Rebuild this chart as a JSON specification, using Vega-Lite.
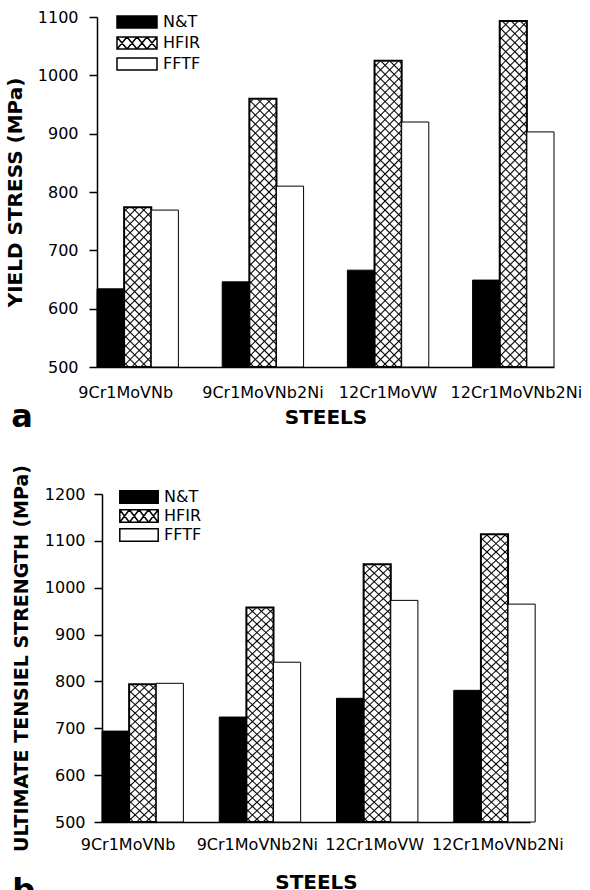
{
 "$schema": "https://vega.github.io/schema/vega-lite/v6.json",
 "background": "#ffffff",
 "padding": {"left": 5, "top": 9, "right": 5, "bottom": 0},
 "columns": 1,
 "spacing": 31,
 "resolve": {"scale": {"fill": "independent"}, "legend": {"fill": "independent"}},
 "data": {"values": [
  {"steel":"9Cr1MoVNb","cond":"N&T","ys":634,"uts":694},
  {"steel":"9Cr1MoVNb","cond":"HFIR","ys":774,"uts":794},
  {"steel":"9Cr1MoVNb","cond":"FFTF","ys":769,"uts":796},
  {"steel":"9Cr1MoVNb2Ni","cond":"N&T","ys":646,"uts":724},
  {"steel":"9Cr1MoVNb2Ni","cond":"HFIR","ys":960,"uts":958},
  {"steel":"9Cr1MoVNb2Ni","cond":"FFTF","ys":810,"uts":841},
  {"steel":"12Cr1MoVW","cond":"N&T","ys":666,"uts":764},
  {"steel":"12Cr1MoVW","cond":"HFIR","ys":1025,"uts":1050},
  {"steel":"12Cr1MoVW","cond":"FFTF","ys":920,"uts":973},
  {"steel":"12Cr1MoVNb2Ni","cond":"N&T","ys":649,"uts":781},
  {"steel":"12Cr1MoVNb2Ni","cond":"HFIR","ys":1093,"uts":1114},
  {"steel":"12Cr1MoVNb2Ni","cond":"FFTF","ys":903,"uts":965}
 ]},
 "concat": [
  {
   "width": 457, "height": 350,
   "title": {"text": "a", "orient": "bottom", "anchor": "start", "frame": "bounds", "fontSize": 32, "font": "DejaVu Sans", "fontWeight": "bold", "color": "#000", "offset": 0, "dx": 6, "dy": -25},
   "encoding": {
    "x": {"field": "steel", "type": "nominal", "scale": {"domain": ["9Cr1MoVNb","9Cr1MoVNb2Ni","12Cr1MoVW","12Cr1MoVNb2Ni"], "paddingInner": 0.35, "paddingOuter": 0},
          "axis": {"title": "STEELS", "labelPadding": 17, "titlePadding": 7, "labelOverlap": false,
                   "labelOffset": {"condition": [{"test": "datum.value === '9Cr1MoVNb'", "value": -12}, {"test": "datum.value === '12Cr1MoVNb2Ni'", "value": 3}], "value": 0}}},
    "xOffset": {"field": "cond", "type": "nominal", "scale": {"domain": ["N&T","HFIR","FFTF"], "paddingInner": 0, "paddingOuter": 0}}
   },
   "layer": [
    {"transform": [{"filter": "datum.cond === 'HFIR'"}],
     "mark": {"type": "bar", "fill": {"gradient": "linear", "x1": 0, "y1": 0, "x2": 0.0829, "y2": 1.071, "stops": [
    {"offset":0.008,"color":"#fff"},{"offset":0.012,"color":"#000"},{"offset":0.016,"color":"#fff"},
    {"offset":0.032,"color":"#fff"},{"offset":0.036,"color":"#000"},{"offset":0.040,"color":"#fff"},
    {"offset":0.056,"color":"#fff"},{"offset":0.060,"color":"#000"},{"offset":0.064,"color":"#fff"},
    {"offset":0.080,"color":"#fff"},{"offset":0.084,"color":"#000"},{"offset":0.088,"color":"#fff"},
    {"offset":0.104,"color":"#fff"},{"offset":0.108,"color":"#000"},{"offset":0.112,"color":"#fff"},
    {"offset":0.128,"color":"#fff"},{"offset":0.132,"color":"#000"},{"offset":0.136,"color":"#fff"},
    {"offset":0.152,"color":"#fff"},{"offset":0.156,"color":"#000"},{"offset":0.160,"color":"#fff"},
    {"offset":0.176,"color":"#fff"},{"offset":0.180,"color":"#000"},{"offset":0.184,"color":"#fff"},
    {"offset":0.200,"color":"#fff"},{"offset":0.204,"color":"#000"},{"offset":0.208,"color":"#fff"},
    {"offset":0.224,"color":"#fff"},{"offset":0.228,"color":"#000"},{"offset":0.232,"color":"#fff"},
    {"offset":0.248,"color":"#fff"},{"offset":0.252,"color":"#000"},{"offset":0.256,"color":"#fff"},
    {"offset":0.272,"color":"#fff"},{"offset":0.276,"color":"#000"},{"offset":0.280,"color":"#fff"},
    {"offset":0.296,"color":"#fff"},{"offset":0.300,"color":"#000"},{"offset":0.304,"color":"#fff"},
    {"offset":0.320,"color":"#fff"},{"offset":0.324,"color":"#000"},{"offset":0.328,"color":"#fff"},
    {"offset":0.344,"color":"#fff"},{"offset":0.348,"color":"#000"},{"offset":0.352,"color":"#fff"},
    {"offset":0.368,"color":"#fff"},{"offset":0.372,"color":"#000"},{"offset":0.376,"color":"#fff"},
    {"offset":0.392,"color":"#fff"},{"offset":0.396,"color":"#000"},{"offset":0.400,"color":"#fff"},
    {"offset":0.416,"color":"#fff"},{"offset":0.420,"color":"#000"},{"offset":0.424,"color":"#fff"},
    {"offset":0.440,"color":"#fff"},{"offset":0.444,"color":"#000"},{"offset":0.448,"color":"#fff"},
    {"offset":0.464,"color":"#fff"},{"offset":0.468,"color":"#000"},{"offset":0.472,"color":"#fff"},
    {"offset":0.488,"color":"#fff"},{"offset":0.492,"color":"#000"},{"offset":0.496,"color":"#fff"},
    {"offset":0.512,"color":"#fff"},{"offset":0.516,"color":"#000"},{"offset":0.520,"color":"#fff"},
    {"offset":0.536,"color":"#fff"},{"offset":0.540,"color":"#000"},{"offset":0.544,"color":"#fff"},
    {"offset":0.560,"color":"#fff"},{"offset":0.564,"color":"#000"},{"offset":0.568,"color":"#fff"},
    {"offset":0.584,"color":"#fff"},{"offset":0.588,"color":"#000"},{"offset":0.592,"color":"#fff"},
    {"offset":0.608,"color":"#fff"},{"offset":0.612,"color":"#000"},{"offset":0.616,"color":"#fff"},
    {"offset":0.632,"color":"#fff"},{"offset":0.636,"color":"#000"},{"offset":0.640,"color":"#fff"},
    {"offset":0.656,"color":"#fff"},{"offset":0.660,"color":"#000"},{"offset":0.664,"color":"#fff"},
    {"offset":0.680,"color":"#fff"},{"offset":0.684,"color":"#000"},{"offset":0.688,"color":"#fff"},
    {"offset":0.704,"color":"#fff"},{"offset":0.708,"color":"#000"},{"offset":0.712,"color":"#fff"},
    {"offset":0.728,"color":"#fff"},{"offset":0.732,"color":"#000"},{"offset":0.736,"color":"#fff"},
    {"offset":0.752,"color":"#fff"},{"offset":0.756,"color":"#000"},{"offset":0.760,"color":"#fff"},
    {"offset":0.776,"color":"#fff"},{"offset":0.780,"color":"#000"},{"offset":0.784,"color":"#fff"},
    {"offset":0.800,"color":"#fff"},{"offset":0.804,"color":"#000"},{"offset":0.808,"color":"#fff"},
    {"offset":0.824,"color":"#fff"},{"offset":0.828,"color":"#000"},{"offset":0.832,"color":"#fff"},
    {"offset":0.848,"color":"#fff"},{"offset":0.852,"color":"#000"},{"offset":0.856,"color":"#fff"},
    {"offset":0.872,"color":"#fff"},{"offset":0.876,"color":"#000"},{"offset":0.880,"color":"#fff"},
    {"offset":0.896,"color":"#fff"},{"offset":0.900,"color":"#000"},{"offset":0.904,"color":"#fff"},
    {"offset":0.920,"color":"#fff"},{"offset":0.924,"color":"#000"},{"offset":0.928,"color":"#fff"},
    {"offset":0.944,"color":"#fff"},{"offset":0.948,"color":"#000"},{"offset":0.952,"color":"#fff"},
    {"offset":0.968,"color":"#fff"},{"offset":0.972,"color":"#000"},{"offset":0.976,"color":"#fff"},
    {"offset":0.992,"color":"#fff"},{"offset":0.996,"color":"#000"},{"offset":1.000,"color":"#fff"}
     ]}},
     "encoding": {"y": {"datum": 1100, "type": "quantitative", "scale": {"domain": [500, 1100], "nice": false, "zero": false}}, "y2": {"datum": 500}}},
    {"transform": [{"filter": "datum.cond === 'HFIR'"}],
     "mark": {"type": "bar", "fill": {"gradient": "linear", "x1": 0, "y1": 1, "x2": 0.0829, "y2": -0.071, "stops": [
    {"offset":0.008,"color":"transparent"},{"offset":0.012,"color":"#000"},{"offset":0.016,"color":"transparent"},
    {"offset":0.032,"color":"transparent"},{"offset":0.036,"color":"#000"},{"offset":0.040,"color":"transparent"},
    {"offset":0.056,"color":"transparent"},{"offset":0.060,"color":"#000"},{"offset":0.064,"color":"transparent"},
    {"offset":0.080,"color":"transparent"},{"offset":0.084,"color":"#000"},{"offset":0.088,"color":"transparent"},
    {"offset":0.104,"color":"transparent"},{"offset":0.108,"color":"#000"},{"offset":0.112,"color":"transparent"},
    {"offset":0.128,"color":"transparent"},{"offset":0.132,"color":"#000"},{"offset":0.136,"color":"transparent"},
    {"offset":0.152,"color":"transparent"},{"offset":0.156,"color":"#000"},{"offset":0.160,"color":"transparent"},
    {"offset":0.176,"color":"transparent"},{"offset":0.180,"color":"#000"},{"offset":0.184,"color":"transparent"},
    {"offset":0.200,"color":"transparent"},{"offset":0.204,"color":"#000"},{"offset":0.208,"color":"transparent"},
    {"offset":0.224,"color":"transparent"},{"offset":0.228,"color":"#000"},{"offset":0.232,"color":"transparent"},
    {"offset":0.248,"color":"transparent"},{"offset":0.252,"color":"#000"},{"offset":0.256,"color":"transparent"},
    {"offset":0.272,"color":"transparent"},{"offset":0.276,"color":"#000"},{"offset":0.280,"color":"transparent"},
    {"offset":0.296,"color":"transparent"},{"offset":0.300,"color":"#000"},{"offset":0.304,"color":"transparent"},
    {"offset":0.320,"color":"transparent"},{"offset":0.324,"color":"#000"},{"offset":0.328,"color":"transparent"},
    {"offset":0.344,"color":"transparent"},{"offset":0.348,"color":"#000"},{"offset":0.352,"color":"transparent"},
    {"offset":0.368,"color":"transparent"},{"offset":0.372,"color":"#000"},{"offset":0.376,"color":"transparent"},
    {"offset":0.392,"color":"transparent"},{"offset":0.396,"color":"#000"},{"offset":0.400,"color":"transparent"},
    {"offset":0.416,"color":"transparent"},{"offset":0.420,"color":"#000"},{"offset":0.424,"color":"transparent"},
    {"offset":0.440,"color":"transparent"},{"offset":0.444,"color":"#000"},{"offset":0.448,"color":"transparent"},
    {"offset":0.464,"color":"transparent"},{"offset":0.468,"color":"#000"},{"offset":0.472,"color":"transparent"},
    {"offset":0.488,"color":"transparent"},{"offset":0.492,"color":"#000"},{"offset":0.496,"color":"transparent"},
    {"offset":0.512,"color":"transparent"},{"offset":0.516,"color":"#000"},{"offset":0.520,"color":"transparent"},
    {"offset":0.536,"color":"transparent"},{"offset":0.540,"color":"#000"},{"offset":0.544,"color":"transparent"},
    {"offset":0.560,"color":"transparent"},{"offset":0.564,"color":"#000"},{"offset":0.568,"color":"transparent"},
    {"offset":0.584,"color":"transparent"},{"offset":0.588,"color":"#000"},{"offset":0.592,"color":"transparent"},
    {"offset":0.608,"color":"transparent"},{"offset":0.612,"color":"#000"},{"offset":0.616,"color":"transparent"},
    {"offset":0.632,"color":"transparent"},{"offset":0.636,"color":"#000"},{"offset":0.640,"color":"transparent"},
    {"offset":0.656,"color":"transparent"},{"offset":0.660,"color":"#000"},{"offset":0.664,"color":"transparent"},
    {"offset":0.680,"color":"transparent"},{"offset":0.684,"color":"#000"},{"offset":0.688,"color":"transparent"},
    {"offset":0.704,"color":"transparent"},{"offset":0.708,"color":"#000"},{"offset":0.712,"color":"transparent"},
    {"offset":0.728,"color":"transparent"},{"offset":0.732,"color":"#000"},{"offset":0.736,"color":"transparent"},
    {"offset":0.752,"color":"transparent"},{"offset":0.756,"color":"#000"},{"offset":0.760,"color":"transparent"},
    {"offset":0.776,"color":"transparent"},{"offset":0.780,"color":"#000"},{"offset":0.784,"color":"transparent"},
    {"offset":0.800,"color":"transparent"},{"offset":0.804,"color":"#000"},{"offset":0.808,"color":"transparent"},
    {"offset":0.824,"color":"transparent"},{"offset":0.828,"color":"#000"},{"offset":0.832,"color":"transparent"},
    {"offset":0.848,"color":"transparent"},{"offset":0.852,"color":"#000"},{"offset":0.856,"color":"transparent"},
    {"offset":0.872,"color":"transparent"},{"offset":0.876,"color":"#000"},{"offset":0.880,"color":"transparent"},
    {"offset":0.896,"color":"transparent"},{"offset":0.900,"color":"#000"},{"offset":0.904,"color":"transparent"},
    {"offset":0.920,"color":"transparent"},{"offset":0.924,"color":"#000"},{"offset":0.928,"color":"transparent"},
    {"offset":0.944,"color":"transparent"},{"offset":0.948,"color":"#000"},{"offset":0.952,"color":"transparent"},
    {"offset":0.968,"color":"transparent"},{"offset":0.972,"color":"#000"},{"offset":0.976,"color":"transparent"},
    {"offset":0.992,"color":"transparent"},{"offset":0.996,"color":"#000"},{"offset":1.000,"color":"transparent"}
     ]}},
     "encoding": {"y": {"datum": 1100, "type": "quantitative", "scale": {"domain": [500, 1100], "nice": false, "zero": false}}, "y2": {"datum": 500}}},
    {"transform": [{"filter": "datum.cond === 'HFIR'"}], "mark": {"type": "bar", "fill": "#ffffff", "stroke": "#ffffff", "strokeWidth": 1.5},
     "encoding": {"y": {"field": "ys", "type": "quantitative", "scale": {"domain": [500, 1100], "nice": false, "zero": false}}, "y2": {"datum": 1100}}},
    {"mark": {"type": "bar", "stroke": "#000000"},
     "encoding": {
      "y": {"field": "ys", "type": "quantitative", "scale": {"domain": [500, 1100], "nice": false, "zero": false},
            "axis": {"title": "YIELD  STRESS  (MPa)", "format": "d", "values": [500,600,700,800,900,1000,1100], "titlePadding": 12, "labelPadding": 11, "titleFontSize": 20}},
      "y2": {"datum": 500},
      "fill": {"field": "cond", "type": "nominal", "scale": {"domain": ["N&T","HFIR","FFTF"], "range": ["#000000", "transparent", "#ffffff"]},
               "legend": {"title": null, "orient": "none", "legendX": 32, "legendY": -3, "padding": 0, "symbolSize": 144, "labelOffset": 18, "rowPadding": 3,
                          "symbolType": {"expr": "datum.value === 'HFIR' ? 'M-3.333,-1H3.333V1H-3.333ZM-3.333,-1L-1.667,1M-1.667,-1L-3.333,1M-1.667,-1L0,1M0,-1L-1.667,1M0,-1L1.667,1M1.667,-1L0,1M1.667,-1L3.333,1M3.333,-1L1.667,1' : 'M-3.333,-1H3.333V1H-3.333Z'"},
                          "encode": {"symbols": {
                            "fill": {"condition": {"test": "datum.value === 'N&T'", "value": "#000000"}, "value": "#ffffff"},
                            "stroke": {"value": "#000000"},
                            "strokeWidth": {"value": 1.3},
                            "opacity": {"value": 1}}}}},
      "strokeWidth": {"condition": {"test": "datum.cond === 'HFIR'", "value": 2}, "value": 1}
     }}
   ]
  },
  {
   "width": 433, "height": 328,
   "title": {"text": "b", "orient": "bottom", "anchor": "start", "frame": "bounds", "fontSize": 32, "font": "DejaVu Sans", "fontWeight": "bold", "color": "#000", "offset": 0, "dx": 0, "dy": -16},
   "encoding": {
    "x": {"field": "steel", "type": "nominal", "scale": {"domain": ["9Cr1MoVNb","9Cr1MoVNb2Ni","12Cr1MoVW","12Cr1MoVNb2Ni"], "range": [5, 433], "paddingInner": 0.35, "paddingOuter": 0},
          "axis": {"title": "STEELS", "labelPadding": 14, "titlePadding": 20, "labelOverlap": false,
                   "labelOffset": {"condition": [{"test": "datum.value === '9Cr1MoVNb'", "value": -12}, {"test": "datum.value === '12Cr1MoVNb2Ni'", "value": 6}], "value": 0}}},
    "xOffset": {"field": "cond", "type": "nominal", "scale": {"domain": ["N&T","HFIR","FFTF"], "paddingInner": 0, "paddingOuter": 0}}
   },
   "layer": [
    {"transform": [{"filter": "datum.cond === 'HFIR'"}],
     "mark": {"type": "bar", "fill": {"gradient": "linear", "x1": 0, "y1": 0, "x2": 0.0829, "y2": 1.071, "stops": [
    {"offset":0.008,"color":"#fff"},{"offset":0.012,"color":"#000"},{"offset":0.016,"color":"#fff"},
    {"offset":0.032,"color":"#fff"},{"offset":0.036,"color":"#000"},{"offset":0.040,"color":"#fff"},
    {"offset":0.056,"color":"#fff"},{"offset":0.060,"color":"#000"},{"offset":0.064,"color":"#fff"},
    {"offset":0.080,"color":"#fff"},{"offset":0.084,"color":"#000"},{"offset":0.088,"color":"#fff"},
    {"offset":0.104,"color":"#fff"},{"offset":0.108,"color":"#000"},{"offset":0.112,"color":"#fff"},
    {"offset":0.128,"color":"#fff"},{"offset":0.132,"color":"#000"},{"offset":0.136,"color":"#fff"},
    {"offset":0.152,"color":"#fff"},{"offset":0.156,"color":"#000"},{"offset":0.160,"color":"#fff"},
    {"offset":0.176,"color":"#fff"},{"offset":0.180,"color":"#000"},{"offset":0.184,"color":"#fff"},
    {"offset":0.200,"color":"#fff"},{"offset":0.204,"color":"#000"},{"offset":0.208,"color":"#fff"},
    {"offset":0.224,"color":"#fff"},{"offset":0.228,"color":"#000"},{"offset":0.232,"color":"#fff"},
    {"offset":0.248,"color":"#fff"},{"offset":0.252,"color":"#000"},{"offset":0.256,"color":"#fff"},
    {"offset":0.272,"color":"#fff"},{"offset":0.276,"color":"#000"},{"offset":0.280,"color":"#fff"},
    {"offset":0.296,"color":"#fff"},{"offset":0.300,"color":"#000"},{"offset":0.304,"color":"#fff"},
    {"offset":0.320,"color":"#fff"},{"offset":0.324,"color":"#000"},{"offset":0.328,"color":"#fff"},
    {"offset":0.344,"color":"#fff"},{"offset":0.348,"color":"#000"},{"offset":0.352,"color":"#fff"},
    {"offset":0.368,"color":"#fff"},{"offset":0.372,"color":"#000"},{"offset":0.376,"color":"#fff"},
    {"offset":0.392,"color":"#fff"},{"offset":0.396,"color":"#000"},{"offset":0.400,"color":"#fff"},
    {"offset":0.416,"color":"#fff"},{"offset":0.420,"color":"#000"},{"offset":0.424,"color":"#fff"},
    {"offset":0.440,"color":"#fff"},{"offset":0.444,"color":"#000"},{"offset":0.448,"color":"#fff"},
    {"offset":0.464,"color":"#fff"},{"offset":0.468,"color":"#000"},{"offset":0.472,"color":"#fff"},
    {"offset":0.488,"color":"#fff"},{"offset":0.492,"color":"#000"},{"offset":0.496,"color":"#fff"},
    {"offset":0.512,"color":"#fff"},{"offset":0.516,"color":"#000"},{"offset":0.520,"color":"#fff"},
    {"offset":0.536,"color":"#fff"},{"offset":0.540,"color":"#000"},{"offset":0.544,"color":"#fff"},
    {"offset":0.560,"color":"#fff"},{"offset":0.564,"color":"#000"},{"offset":0.568,"color":"#fff"},
    {"offset":0.584,"color":"#fff"},{"offset":0.588,"color":"#000"},{"offset":0.592,"color":"#fff"},
    {"offset":0.608,"color":"#fff"},{"offset":0.612,"color":"#000"},{"offset":0.616,"color":"#fff"},
    {"offset":0.632,"color":"#fff"},{"offset":0.636,"color":"#000"},{"offset":0.640,"color":"#fff"},
    {"offset":0.656,"color":"#fff"},{"offset":0.660,"color":"#000"},{"offset":0.664,"color":"#fff"},
    {"offset":0.680,"color":"#fff"},{"offset":0.684,"color":"#000"},{"offset":0.688,"color":"#fff"},
    {"offset":0.704,"color":"#fff"},{"offset":0.708,"color":"#000"},{"offset":0.712,"color":"#fff"},
    {"offset":0.728,"color":"#fff"},{"offset":0.732,"color":"#000"},{"offset":0.736,"color":"#fff"},
    {"offset":0.752,"color":"#fff"},{"offset":0.756,"color":"#000"},{"offset":0.760,"color":"#fff"},
    {"offset":0.776,"color":"#fff"},{"offset":0.780,"color":"#000"},{"offset":0.784,"color":"#fff"},
    {"offset":0.800,"color":"#fff"},{"offset":0.804,"color":"#000"},{"offset":0.808,"color":"#fff"},
    {"offset":0.824,"color":"#fff"},{"offset":0.828,"color":"#000"},{"offset":0.832,"color":"#fff"},
    {"offset":0.848,"color":"#fff"},{"offset":0.852,"color":"#000"},{"offset":0.856,"color":"#fff"},
    {"offset":0.872,"color":"#fff"},{"offset":0.876,"color":"#000"},{"offset":0.880,"color":"#fff"},
    {"offset":0.896,"color":"#fff"},{"offset":0.900,"color":"#000"},{"offset":0.904,"color":"#fff"},
    {"offset":0.920,"color":"#fff"},{"offset":0.924,"color":"#000"},{"offset":0.928,"color":"#fff"},
    {"offset":0.944,"color":"#fff"},{"offset":0.948,"color":"#000"},{"offset":0.952,"color":"#fff"},
    {"offset":0.968,"color":"#fff"},{"offset":0.972,"color":"#000"},{"offset":0.976,"color":"#fff"},
    {"offset":0.992,"color":"#fff"},{"offset":0.996,"color":"#000"},{"offset":1.000,"color":"#fff"}
     ]}},
     "encoding": {"y": {"datum": 1200, "type": "quantitative", "scale": {"domain": [500, 1200], "nice": false, "zero": false}}, "y2": {"datum": 500}}},
    {"transform": [{"filter": "datum.cond === 'HFIR'"}],
     "mark": {"type": "bar", "fill": {"gradient": "linear", "x1": 0, "y1": 1, "x2": 0.0829, "y2": -0.071, "stops": [
    {"offset":0.008,"color":"transparent"},{"offset":0.012,"color":"#000"},{"offset":0.016,"color":"transparent"},
    {"offset":0.032,"color":"transparent"},{"offset":0.036,"color":"#000"},{"offset":0.040,"color":"transparent"},
    {"offset":0.056,"color":"transparent"},{"offset":0.060,"color":"#000"},{"offset":0.064,"color":"transparent"},
    {"offset":0.080,"color":"transparent"},{"offset":0.084,"color":"#000"},{"offset":0.088,"color":"transparent"},
    {"offset":0.104,"color":"transparent"},{"offset":0.108,"color":"#000"},{"offset":0.112,"color":"transparent"},
    {"offset":0.128,"color":"transparent"},{"offset":0.132,"color":"#000"},{"offset":0.136,"color":"transparent"},
    {"offset":0.152,"color":"transparent"},{"offset":0.156,"color":"#000"},{"offset":0.160,"color":"transparent"},
    {"offset":0.176,"color":"transparent"},{"offset":0.180,"color":"#000"},{"offset":0.184,"color":"transparent"},
    {"offset":0.200,"color":"transparent"},{"offset":0.204,"color":"#000"},{"offset":0.208,"color":"transparent"},
    {"offset":0.224,"color":"transparent"},{"offset":0.228,"color":"#000"},{"offset":0.232,"color":"transparent"},
    {"offset":0.248,"color":"transparent"},{"offset":0.252,"color":"#000"},{"offset":0.256,"color":"transparent"},
    {"offset":0.272,"color":"transparent"},{"offset":0.276,"color":"#000"},{"offset":0.280,"color":"transparent"},
    {"offset":0.296,"color":"transparent"},{"offset":0.300,"color":"#000"},{"offset":0.304,"color":"transparent"},
    {"offset":0.320,"color":"transparent"},{"offset":0.324,"color":"#000"},{"offset":0.328,"color":"transparent"},
    {"offset":0.344,"color":"transparent"},{"offset":0.348,"color":"#000"},{"offset":0.352,"color":"transparent"},
    {"offset":0.368,"color":"transparent"},{"offset":0.372,"color":"#000"},{"offset":0.376,"color":"transparent"},
    {"offset":0.392,"color":"transparent"},{"offset":0.396,"color":"#000"},{"offset":0.400,"color":"transparent"},
    {"offset":0.416,"color":"transparent"},{"offset":0.420,"color":"#000"},{"offset":0.424,"color":"transparent"},
    {"offset":0.440,"color":"transparent"},{"offset":0.444,"color":"#000"},{"offset":0.448,"color":"transparent"},
    {"offset":0.464,"color":"transparent"},{"offset":0.468,"color":"#000"},{"offset":0.472,"color":"transparent"},
    {"offset":0.488,"color":"transparent"},{"offset":0.492,"color":"#000"},{"offset":0.496,"color":"transparent"},
    {"offset":0.512,"color":"transparent"},{"offset":0.516,"color":"#000"},{"offset":0.520,"color":"transparent"},
    {"offset":0.536,"color":"transparent"},{"offset":0.540,"color":"#000"},{"offset":0.544,"color":"transparent"},
    {"offset":0.560,"color":"transparent"},{"offset":0.564,"color":"#000"},{"offset":0.568,"color":"transparent"},
    {"offset":0.584,"color":"transparent"},{"offset":0.588,"color":"#000"},{"offset":0.592,"color":"transparent"},
    {"offset":0.608,"color":"transparent"},{"offset":0.612,"color":"#000"},{"offset":0.616,"color":"transparent"},
    {"offset":0.632,"color":"transparent"},{"offset":0.636,"color":"#000"},{"offset":0.640,"color":"transparent"},
    {"offset":0.656,"color":"transparent"},{"offset":0.660,"color":"#000"},{"offset":0.664,"color":"transparent"},
    {"offset":0.680,"color":"transparent"},{"offset":0.684,"color":"#000"},{"offset":0.688,"color":"transparent"},
    {"offset":0.704,"color":"transparent"},{"offset":0.708,"color":"#000"},{"offset":0.712,"color":"transparent"},
    {"offset":0.728,"color":"transparent"},{"offset":0.732,"color":"#000"},{"offset":0.736,"color":"transparent"},
    {"offset":0.752,"color":"transparent"},{"offset":0.756,"color":"#000"},{"offset":0.760,"color":"transparent"},
    {"offset":0.776,"color":"transparent"},{"offset":0.780,"color":"#000"},{"offset":0.784,"color":"transparent"},
    {"offset":0.800,"color":"transparent"},{"offset":0.804,"color":"#000"},{"offset":0.808,"color":"transparent"},
    {"offset":0.824,"color":"transparent"},{"offset":0.828,"color":"#000"},{"offset":0.832,"color":"transparent"},
    {"offset":0.848,"color":"transparent"},{"offset":0.852,"color":"#000"},{"offset":0.856,"color":"transparent"},
    {"offset":0.872,"color":"transparent"},{"offset":0.876,"color":"#000"},{"offset":0.880,"color":"transparent"},
    {"offset":0.896,"color":"transparent"},{"offset":0.900,"color":"#000"},{"offset":0.904,"color":"transparent"},
    {"offset":0.920,"color":"transparent"},{"offset":0.924,"color":"#000"},{"offset":0.928,"color":"transparent"},
    {"offset":0.944,"color":"transparent"},{"offset":0.948,"color":"#000"},{"offset":0.952,"color":"transparent"},
    {"offset":0.968,"color":"transparent"},{"offset":0.972,"color":"#000"},{"offset":0.976,"color":"transparent"},
    {"offset":0.992,"color":"transparent"},{"offset":0.996,"color":"#000"},{"offset":1.000,"color":"transparent"}
     ]}},
     "encoding": {"y": {"datum": 1200, "type": "quantitative", "scale": {"domain": [500, 1200], "nice": false, "zero": false}}, "y2": {"datum": 500}}},
    {"transform": [{"filter": "datum.cond === 'HFIR'"}], "mark": {"type": "bar", "fill": "#ffffff", "stroke": "#ffffff", "strokeWidth": 1.5},
     "encoding": {"y": {"field": "uts", "type": "quantitative", "scale": {"domain": [500, 1200], "nice": false, "zero": false}}, "y2": {"datum": 1200}}},
    {"mark": {"type": "bar", "stroke": "#000000"},
     "encoding": {
      "y": {"field": "uts", "type": "quantitative", "scale": {"domain": [500, 1200], "nice": false, "zero": false},
            "axis": {"title": "ULTIMATE TENSIEL STRENGTH (MPa)", "format": "d", "values": [500,600,700,800,900,1000,1100,1200], "offset": -5, "titlePadding": 13, "labelPadding": 9}},
      "y2": {"datum": 500},
      "fill": {"field": "cond", "type": "nominal", "scale": {"domain": ["N&T","HFIR","FFTF"], "range": ["#000000", "transparent", "#ffffff"]},
               "legend": {"title": null, "orient": "none", "legendX": 34, "legendY": -5, "padding": 0, "symbolSize": 144, "labelOffset": 17, "rowPadding": -1,
                          "symbolType": {"expr": "datum.value === 'HFIR' ? 'M-3.2,-1.05H3.2V1.05H-3.2ZM-3.2,-1.05L-1.6,1.05M-1.6,-1.05L-3.2,1.05M-1.6,-1.05L0,1.05M0,-1.05L-1.6,1.05M0,-1.05L1.6,1.05M1.6,-1.05L0,1.05M1.6,-1.05L3.2,1.05M3.2,-1.05L1.6,1.05' : 'M-3.2,-1.05H3.2V1.05H-3.2Z'"},
                          "encode": {"symbols": {
                            "fill": {"condition": {"test": "datum.value === 'N&T'", "value": "#000000"}, "value": "#ffffff"},
                            "stroke": {"value": "#000000"},
                            "strokeWidth": {"value": 1.3},
                            "opacity": {"value": 1}}}}},
      "strokeWidth": {"condition": {"test": "datum.cond === 'HFIR'", "value": 2}, "value": 1}
     }}
   ]
  }
 ],
 "config": {
  "view": {"stroke": null},
  "font": "DejaVu Sans",
  "axis": {"domainColor": "#000000", "domainWidth": 1.5, "tickColor": "#000000", "tickWidth": 1.5, "labelColor": "#000000", "labelFont": "DejaVu Sans", "labelFontSize": 16, "titleFont": "DejaVu Sans", "titleFontWeight": "bold", "titleColor": "#000000", "grid": false},
  "axisX": {"ticks": false, "tickSize": 0, "labelAngle": 0, "titleFontSize": 20},
  "axisY": {"tickSize": 8, "titleFontSize": 19},
  "legend": {"labelFont": "DejaVu Sans", "labelFontSize": 16, "labelColor": "#000000"}
 }
}
